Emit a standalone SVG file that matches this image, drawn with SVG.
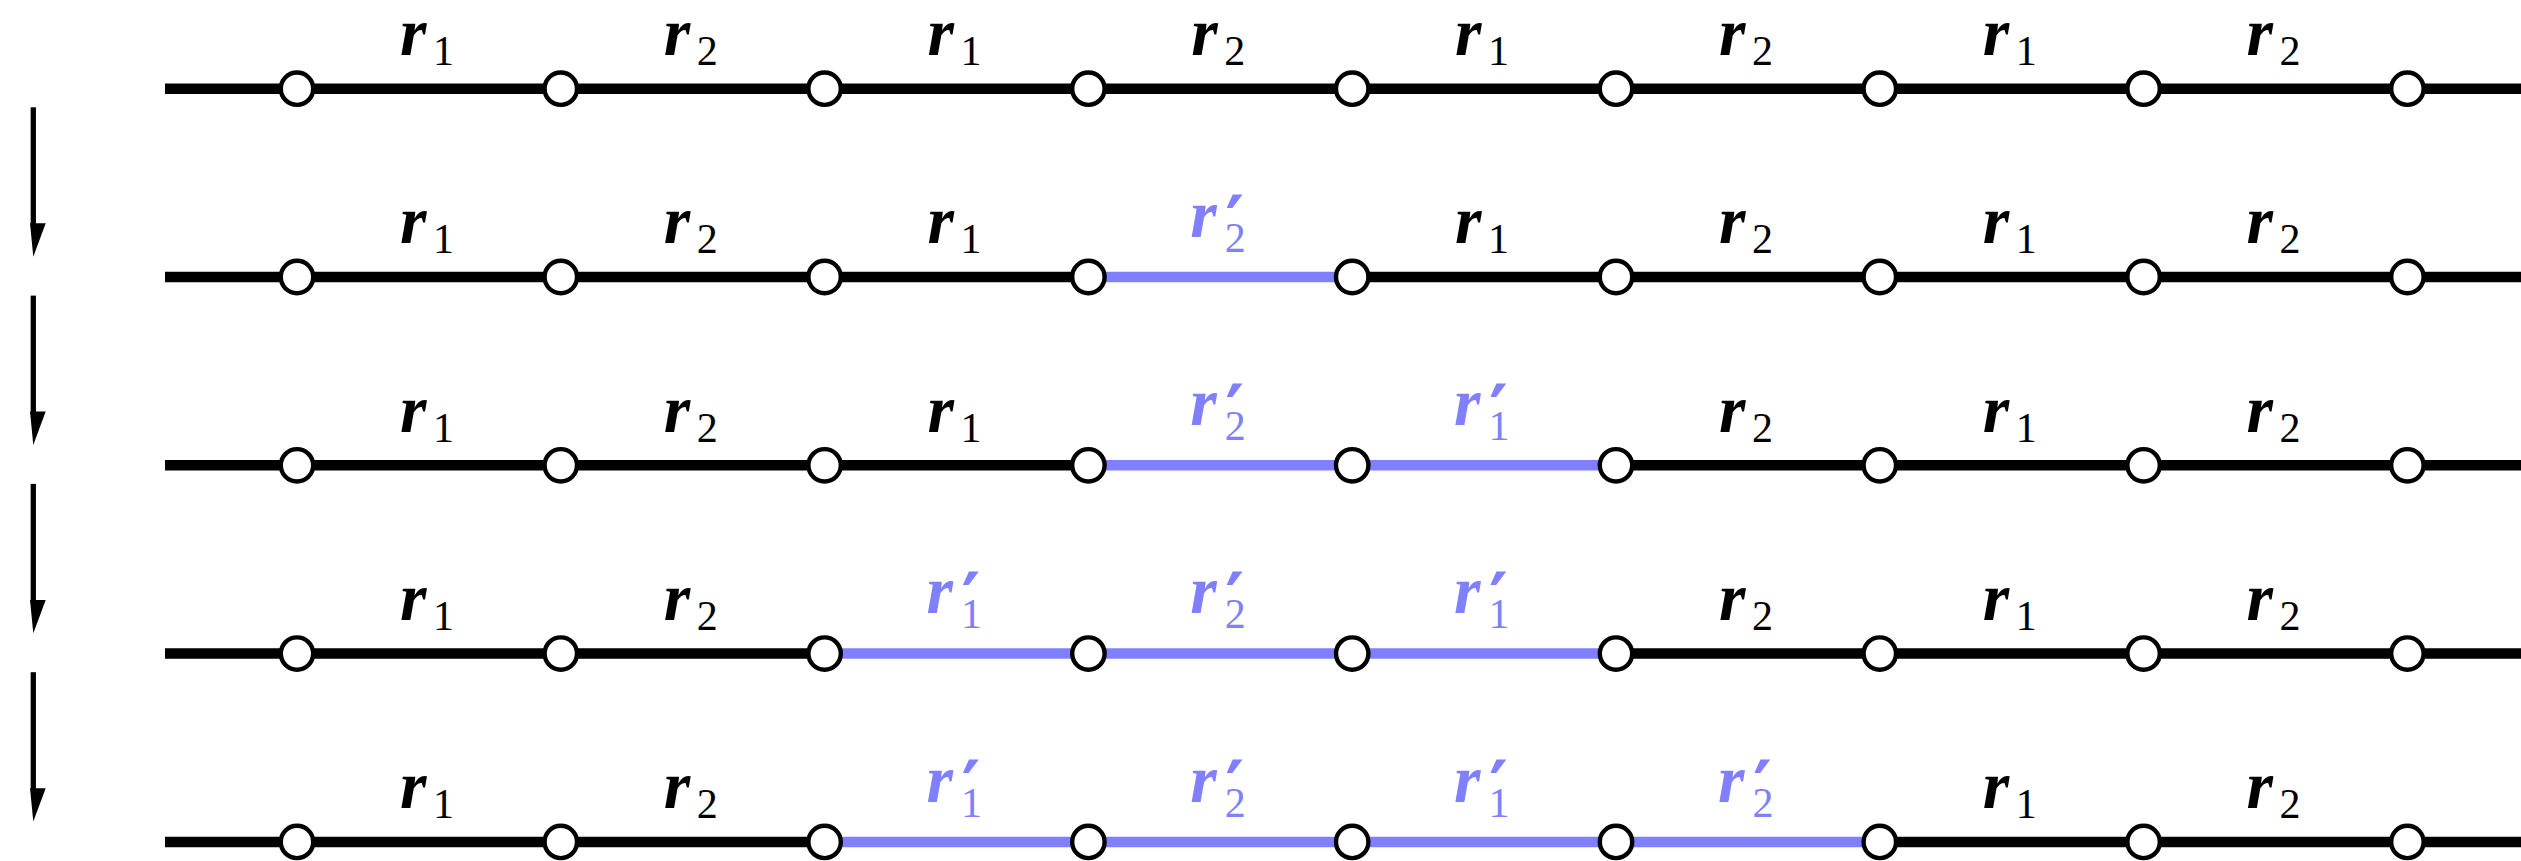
<svg xmlns="http://www.w3.org/2000/svg" width="2521" height="861" viewBox="0 0 2521 861">
<style>
.bk{fill:none;stroke:#000;stroke-width:10.5}
.bl{fill:none;stroke:#8080ff;stroke-width:10.5}
.nd{fill:#fff;stroke:#000;stroke-width:4.4}
.ar{fill:none;stroke:#000;stroke-width:5.3}
.ah{fill:#000}
.mi{font-family:"Liberation Serif","DejaVu Serif","Times New Roman",serif;font-size:68px;font-weight:bold;font-style:italic}
.sb{font-family:"Liberation Serif","DejaVu Serif","Times New Roman",serif;font-size:42px;font-weight:normal;font-style:normal}
.pr{font-family:"DejaVu Serif","Liberation Serif",serif;font-size:72px;font-weight:bold;font-style:normal}
.k{fill:#000}
.b{fill:#8080ff}
</style>
<rect width="2521" height="861" fill="#fff"/>
<g id="arrows">
<line class="ar" x1="33.3" y1="107.3" x2="33.3" y2="225"/><polygon class="ah" points="30,223.3 45.7,223.3 33.3,256.7"/>
<line class="ar" x1="33.3" y1="295.6" x2="33.3" y2="413.3"/><polygon class="ah" points="30,411.6 45.7,411.6 33.3,445"/>
<line class="ar" x1="33.3" y1="483.9" x2="33.3" y2="601.6"/><polygon class="ah" points="30,599.9 45.7,599.9 33.3,633.3"/>
<line class="ar" x1="33.3" y1="672.2" x2="33.3" y2="789.9"/><polygon class="ah" points="30,788.2 45.7,788.2 33.3,821.6"/>
</g>
<g id="connectors">
<path class="bk" d="M165 88.7H2521"/>
<path class="bk" d="M165 277H1088.4M1352.2 277H2521"/>
<path class="bl" d="M1088.4 277H1352.2"/>
<path class="bk" d="M165 465.3H1088.4M1616 465.3H2521"/>
<path class="bl" d="M1088.4 465.3H1616"/>
<path class="bk" d="M165 653.6H824.6M1616 653.6H2521"/>
<path class="bl" d="M824.6 653.6H1616"/>
<path class="bk" d="M165 841.9H824.6M1879.8 841.9H2521"/>
<path class="bl" d="M824.6 841.9H1879.8"/>
</g>
<g id="nodes">
<g id="row1">
<circle id="n1-1" class="nd" cx="297" cy="88.7" r="16.2"/><circle id="n1-2" class="nd" cx="560.8" cy="88.7" r="16.2"/><circle id="n1-3" class="nd" cx="824.6" cy="88.7" r="16.2"/><circle id="n1-4" class="nd" cx="1088.4" cy="88.7" r="16.2"/><circle id="n1-5" class="nd" cx="1352.2" cy="88.7" r="16.2"/><circle id="n1-6" class="nd" cx="1616" cy="88.7" r="16.2"/><circle id="n1-7" class="nd" cx="1879.8" cy="88.7" r="16.2"/><circle id="n1-8" class="nd" cx="2143.6" cy="88.7" r="16.2"/><circle id="n1-9" class="nd" cx="2407.4" cy="88.7" r="16.2"/>
</g>
<g id="row2">
<circle id="n2-1" class="nd" cx="297" cy="277" r="16.2"/><circle id="n2-2" class="nd" cx="560.8" cy="277" r="16.2"/><circle id="n2-3" class="nd" cx="824.6" cy="277" r="16.2"/><circle id="n2-4" class="nd" cx="1088.4" cy="277" r="16.2"/><circle id="n2-5" class="nd" cx="1352.2" cy="277" r="16.2"/><circle id="n2-6" class="nd" cx="1616" cy="277" r="16.2"/><circle id="n2-7" class="nd" cx="1879.8" cy="277" r="16.2"/><circle id="n2-8" class="nd" cx="2143.6" cy="277" r="16.2"/><circle id="n2-9" class="nd" cx="2407.4" cy="277" r="16.2"/>
</g>
<g id="row3">
<circle id="n3-1" class="nd" cx="297" cy="465.3" r="16.2"/><circle id="n3-2" class="nd" cx="560.8" cy="465.3" r="16.2"/><circle id="n3-3" class="nd" cx="824.6" cy="465.3" r="16.2"/><circle id="n3-4" class="nd" cx="1088.4" cy="465.3" r="16.2"/><circle id="n3-5" class="nd" cx="1352.2" cy="465.3" r="16.2"/><circle id="n3-6" class="nd" cx="1616" cy="465.3" r="16.2"/><circle id="n3-7" class="nd" cx="1879.8" cy="465.3" r="16.2"/><circle id="n3-8" class="nd" cx="2143.6" cy="465.3" r="16.2"/><circle id="n3-9" class="nd" cx="2407.4" cy="465.3" r="16.2"/>
</g>
<g id="row4">
<circle id="n4-1" class="nd" cx="297" cy="653.6" r="16.2"/><circle id="n4-2" class="nd" cx="560.8" cy="653.6" r="16.2"/><circle id="n4-3" class="nd" cx="824.6" cy="653.6" r="16.2"/><circle id="n4-4" class="nd" cx="1088.4" cy="653.6" r="16.2"/><circle id="n4-5" class="nd" cx="1352.2" cy="653.6" r="16.2"/><circle id="n4-6" class="nd" cx="1616" cy="653.6" r="16.2"/><circle id="n4-7" class="nd" cx="1879.8" cy="653.6" r="16.2"/><circle id="n4-8" class="nd" cx="2143.6" cy="653.6" r="16.2"/><circle id="n4-9" class="nd" cx="2407.4" cy="653.6" r="16.2"/>
</g>
<g id="row5">
<circle id="n5-1" class="nd" cx="297" cy="841.9" r="16.2"/><circle id="n5-2" class="nd" cx="560.8" cy="841.9" r="16.2"/><circle id="n5-3" class="nd" cx="824.6" cy="841.9" r="16.2"/><circle id="n5-4" class="nd" cx="1088.4" cy="841.9" r="16.2"/><circle id="n5-5" class="nd" cx="1352.2" cy="841.9" r="16.2"/><circle id="n5-6" class="nd" cx="1616" cy="841.9" r="16.2"/><circle id="n5-7" class="nd" cx="1879.8" cy="841.9" r="16.2"/><circle id="n5-8" class="nd" cx="2143.6" cy="841.9" r="16.2"/><circle id="n5-9" class="nd" cx="2407.4" cy="841.9" r="16.2"/>
</g>
</g>
<g id="labels">
<g id="labels-row1" class="k">
<text x="399.9" y="55"><tspan class="mi">r</tspan><tspan class="sb" x="432.9" y="65">1</tspan></text>
<text x="663.7" y="55"><tspan class="mi">r</tspan><tspan class="sb" x="696.7" y="65">2</tspan></text>
<text x="927.5" y="55"><tspan class="mi">r</tspan><tspan class="sb" x="960.5" y="65">1</tspan></text>
<text x="1191.3" y="55"><tspan class="mi">r</tspan><tspan class="sb" x="1224.3" y="65">2</tspan></text>
<text x="1455.1" y="55"><tspan class="mi">r</tspan><tspan class="sb" x="1488.1" y="65">1</tspan></text>
<text x="1718.9" y="55"><tspan class="mi">r</tspan><tspan class="sb" x="1751.9" y="65">2</tspan></text>
<text x="1982.7" y="55"><tspan class="mi">r</tspan><tspan class="sb" x="2015.7" y="65">1</tspan></text>
<text x="2246.5" y="55"><tspan class="mi">r</tspan><tspan class="sb" x="2279.5" y="65">2</tspan></text>
</g>
<g id="labels-row2" class="k">
<text x="399.9" y="243.3"><tspan class="mi">r</tspan><tspan class="sb" x="432.9" y="253.3">1</tspan></text>
<text x="663.7" y="243.3"><tspan class="mi">r</tspan><tspan class="sb" x="696.7" y="253.3">2</tspan></text>
<text x="927.5" y="243.3"><tspan class="mi">r</tspan><tspan class="sb" x="960.5" y="253.3">1</tspan></text>
<text class="b" x="1190.3" y="236.7"><tspan class="mi">r</tspan><tspan class="pr" x="1225.3" y="248.2">′</tspan><tspan class="sb" x="1224.8" y="251.7">2</tspan></text>
<text x="1455.1" y="243.3"><tspan class="mi">r</tspan><tspan class="sb" x="1488.1" y="253.3">1</tspan></text>
<text x="1718.9" y="243.3"><tspan class="mi">r</tspan><tspan class="sb" x="1751.9" y="253.3">2</tspan></text>
<text x="1982.7" y="243.3"><tspan class="mi">r</tspan><tspan class="sb" x="2015.7" y="253.3">1</tspan></text>
<text x="2246.5" y="243.3"><tspan class="mi">r</tspan><tspan class="sb" x="2279.5" y="253.3">2</tspan></text>
</g>
<g id="labels-row3" class="k">
<text x="399.9" y="431.6"><tspan class="mi">r</tspan><tspan class="sb" x="432.9" y="441.6">1</tspan></text>
<text x="663.7" y="431.6"><tspan class="mi">r</tspan><tspan class="sb" x="696.7" y="441.6">2</tspan></text>
<text x="927.5" y="431.6"><tspan class="mi">r</tspan><tspan class="sb" x="960.5" y="441.6">1</tspan></text>
<text class="b" x="1190.3" y="425"><tspan class="mi">r</tspan><tspan class="pr" x="1225.3" y="436.5">′</tspan><tspan class="sb" x="1224.8" y="440">2</tspan></text>
<text class="b" x="1454.1" y="425"><tspan class="mi">r</tspan><tspan class="pr" x="1489.1" y="436.5">′</tspan><tspan class="sb" x="1488.6" y="440">1</tspan></text>
<text x="1718.9" y="431.6"><tspan class="mi">r</tspan><tspan class="sb" x="1751.9" y="441.6">2</tspan></text>
<text x="1982.7" y="431.6"><tspan class="mi">r</tspan><tspan class="sb" x="2015.7" y="441.6">1</tspan></text>
<text x="2246.5" y="431.6"><tspan class="mi">r</tspan><tspan class="sb" x="2279.5" y="441.6">2</tspan></text>
</g>
<g id="labels-row4" class="k">
<text x="399.9" y="619.9"><tspan class="mi">r</tspan><tspan class="sb" x="432.9" y="629.9">1</tspan></text>
<text x="663.7" y="619.9"><tspan class="mi">r</tspan><tspan class="sb" x="696.7" y="629.9">2</tspan></text>
<text class="b" x="926.5" y="613.3"><tspan class="mi">r</tspan><tspan class="pr" x="961.5" y="624.8">′</tspan><tspan class="sb" x="961" y="628.3">1</tspan></text>
<text class="b" x="1190.3" y="613.3"><tspan class="mi">r</tspan><tspan class="pr" x="1225.3" y="624.8">′</tspan><tspan class="sb" x="1224.8" y="628.3">2</tspan></text>
<text class="b" x="1454.1" y="613.3"><tspan class="mi">r</tspan><tspan class="pr" x="1489.1" y="624.8">′</tspan><tspan class="sb" x="1488.6" y="628.3">1</tspan></text>
<text x="1718.9" y="619.9"><tspan class="mi">r</tspan><tspan class="sb" x="1751.9" y="629.9">2</tspan></text>
<text x="1982.7" y="619.9"><tspan class="mi">r</tspan><tspan class="sb" x="2015.7" y="629.9">1</tspan></text>
<text x="2246.5" y="619.9"><tspan class="mi">r</tspan><tspan class="sb" x="2279.5" y="629.9">2</tspan></text>
</g>
<g id="labels-row5" class="k">
<text x="399.9" y="808.2"><tspan class="mi">r</tspan><tspan class="sb" x="432.9" y="818.2">1</tspan></text>
<text x="663.7" y="808.2"><tspan class="mi">r</tspan><tspan class="sb" x="696.7" y="818.2">2</tspan></text>
<text class="b" x="926.5" y="801.6"><tspan class="mi">r</tspan><tspan class="pr" x="961.5" y="813.1">′</tspan><tspan class="sb" x="961" y="816.6">1</tspan></text>
<text class="b" x="1190.3" y="801.6"><tspan class="mi">r</tspan><tspan class="pr" x="1225.3" y="813.1">′</tspan><tspan class="sb" x="1224.8" y="816.6">2</tspan></text>
<text class="b" x="1454.1" y="801.6"><tspan class="mi">r</tspan><tspan class="pr" x="1489.1" y="813.1">′</tspan><tspan class="sb" x="1488.6" y="816.6">1</tspan></text>
<text class="b" x="1717.9" y="801.6"><tspan class="mi">r</tspan><tspan class="pr" x="1752.9" y="813.1">′</tspan><tspan class="sb" x="1752.4" y="816.6">2</tspan></text>
<text x="1982.7" y="808.2"><tspan class="mi">r</tspan><tspan class="sb" x="2015.7" y="818.2">1</tspan></text>
<text x="2246.5" y="808.2"><tspan class="mi">r</tspan><tspan class="sb" x="2279.5" y="818.2">2</tspan></text>
</g>
</g>
</svg>
